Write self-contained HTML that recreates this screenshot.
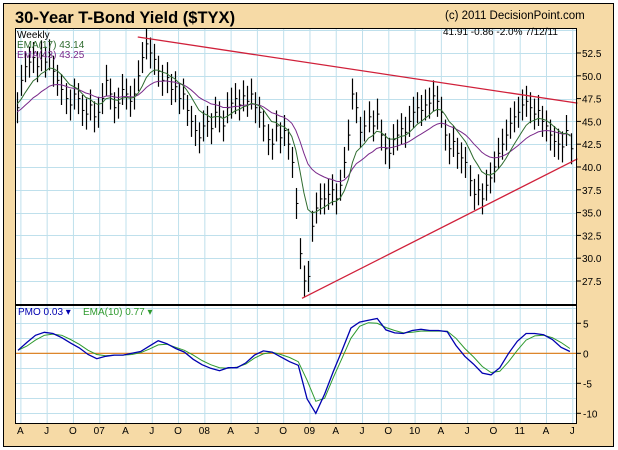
<!DOCTYPE html>
<html><head><meta charset="utf-8">
<style>
body{margin:0;background:#fff;}
svg{display:block;font-family:"Liberation Sans",Arial,sans-serif;}
</style></head>
<body>
<svg id="chart" width="618" height="450" viewBox="0 0 618 450">
<rect x="0" y="0" width="618" height="450" fill="#ffffff"/>
<rect x="3.5" y="3.5" width="610" height="443" fill="#F6DAA6" stroke="#000" stroke-width="1"/>
<text x="15" y="23" font-size="16.5" font-weight="bold" fill="#000">30-Year T-Bond Yield ($TYX)</text>
<text x="445" y="19" font-size="11.5" fill="#000">(c) 2011 DecisionPoint.com</text>
<rect x="15.5" y="28.5" width="561" height="276" fill="#fff"/>
<rect x="15.5" y="305.5" width="561" height="118" fill="#fff"/>
<g id="grid"></g>
<g id="marks"></g>
<rect x="15.5" y="28.5" width="561" height="276" fill="none" stroke="#000" stroke-width="1"/>
<rect x="15.5" y="305.5" width="561" height="118" fill="none" stroke="#000" stroke-width="1"/>
<text x="17" y="38" font-size="10" fill="#000">Weekly</text>
<text x="17" y="48" font-size="10" fill="#2E6B2E">EMA(17) 43.14</text>
<text x="17" y="58" font-size="10" fill="#7A2A8A">EMA(43) 43.25</text>
<text x="443" y="35" font-size="10" fill="#000">41.91  -0.86  -2.0%  7/12/11</text>
<text x="18" y="315" font-size="10" fill="#0000B0">PMO  0.03 ▾</text>
<text x="83" y="315" font-size="10" fill="#2E9A2E">EMA(10)  0.77 ▾</text>
<g id="axes"></g>
</svg>
<script>
const xLabels=["A","J","O","07","A","J","O","08","A","J","O","09","A","J","O","10","A","J","O","11","A","J"];
const xLabelMonths=[0.5,3.5,6.5,9.5,12.5,15.5,18.5,21.5,24.5,27.5,30.5,33.5,36.5,39.5,42.5,45.5,48.5,51.5,54.5,57.5,60.5,63.5];
const priceTicks=[52.5,50.0,47.5,45.0,42.5,40.0,37.5,35.0,32.5,30.0,27.5];
const pmoTicks=[5,0,-5,-10];
// bi-weekly closes (yield x10)
const closes=[46.5,49.5,51.0,51.5,52.0,51.0,52.2,51.5,52.3,50.5,
49.5,48.5,47.5,46.8,48.0,47.5,46.2,45.8,46.8,45.5,
46.0,47.5,49.5,48.0,46.5,47.0,48.5,48.0,47.2,48.0,
50.0,52.0,53.5,52.5,51.8,50.5,49.5,49.8,48.5,48.8,
47.5,48.0,46.2,45.0,44.0,43.2,44.5,45.0,44.2,46.0,
45.5,44.5,46.5,47.0,47.5,46.8,47.8,47.2,48.0,46.5,
46.0,44.5,43.0,42.5,44.5,43.2,44.0,42.5,40.5,36.0,
30.5,27.5,28.0,33.5,35.5,36.5,36.5,37.0,37.5,36.5,
38.0,40.5,43.5,48.0,46.5,43.8,44.5,45.5,44.5,45.8,
43.5,42.0,41.5,43.0,43.5,44.2,43.8,45.0,46.0,46.5,
46.2,46.8,47.0,47.8,47.2,46.0,43.5,42.0,42.8,41.5,
41.0,40.5,38.5,37.0,37.5,36.5,38.0,38.8,40.0,41.5,
42.5,43.5,44.8,45.5,46.0,46.8,47.2,46.5,45.8,46.2,
45.0,44.5,43.5,42.8,42.5,42.2,44.0,42.0];
const barHalfRange=[1.7];
// monthly PMO and signal
const pmo=[0.5,1.8,3.0,3.5,3.3,2.6,1.7,0.9,-0.2,-0.9,-0.5,-0.3,-0.3,0.0,0.3,1.2,2.1,1.6,0.8,0.2,-1.0,-1.9,-2.5,-2.9,-2.4,-2.4,-1.6,-0.3,0.4,0.2,-0.6,-1.4,-2.0,-7.6,-10.0,-6.8,-3.0,0.5,4.2,5.2,5.5,5.8,3.9,3.4,3.3,3.8,4.0,3.8,3.8,3.6,1.3,-0.5,-1.8,-3.3,-3.6,-2.4,0.0,2.0,3.3,3.3,3.1,2.3,1.0,0.3];
const pmoSignal=[0.5,1.2,2.2,3.0,3.2,3.0,2.3,1.5,0.5,-0.2,-0.4,-0.3,-0.3,-0.2,0.1,0.7,1.4,1.5,1.0,0.5,-0.3,-1.2,-1.9,-2.4,-2.5,-2.3,-1.8,-0.8,-0.1,0.2,-0.2,-0.7,-1.4,-4.5,-8.0,-7.5,-4.0,-0.8,2.5,4.5,5.1,5.0,4.3,3.8,3.4,3.5,3.7,3.7,3.7,3.7,2.5,0.8,-0.6,-2.2,-3.2,-3.0,-1.4,0.5,2.2,2.9,3.0,2.6,1.8,0.8];
const upperTrend=[[13.9,54.25],[64.1,47.0]];
const lowerTrend=[[32.65,25.6],[64.1,40.9]];

const NS="http://www.w3.org/2000/svg";
const X=m=>16+m*8.76;
const YP=v=>53+(52.5-v)*9.12;
const YM=v=>353.3-v*6.0;
function mk(tag,attrs,parent){const e=document.createElementNS(NS,tag);for(const k in attrs)e.setAttribute(k,attrs[k]);parent.appendChild(e);return e;}
const grid=document.getElementById('grid'),marks=document.getElementById('marks'),axes=document.getElementById('axes');
xLabelMonths.forEach((m,i)=>{
  const x=X(m)+0.5;
  let l=mk('line',{x1:x,x2:x,y1:29,y2:423,stroke:'#BFE0EC','stroke-width':1},grid);
  
  
  let t=mk('text',{x:X(m),y:434,'font-size':10,'text-anchor':'middle',fill:'#000'},axes);
  t.textContent=xLabels[i];
  
  
});
for(let v=55;v>=25;v-=2.5){const y=Math.round(YP(v))+0.5;if(y<29||y>304)continue;
  let l=mk('line',{x1:16,x2:576,y1:y,y2:y,stroke:'#BFE0EC','stroke-width':1},grid);
  
  }
for(let v=7.5;v>=-10;v-=2.5){const y=Math.round(YM(v))+0.5;if(y<306||y>423)continue;
  let l=mk('line',{x1:16,x2:576,y1:y,y2:y,stroke:'#BFE0EC','stroke-width':1},grid);
  
  }
priceTicks.forEach(v=>{const y=YP(v);
  mk('line',{x1:577,x2:581,y1:y,y2:y,stroke:'#000'},axes);
  let t=mk('text',{x:582,y:y+4,'font-size':10,fill:'#000'},axes);
  t.textContent=v.toFixed(1);
  
  });
pmoTicks.forEach(v=>{const y=YM(v);
  mk('line',{x1:577,x2:581,y1:y,y2:y,stroke:'#000'},axes);
  let t=mk('text',{x:583,y:y+4,'font-size':10,fill:'#000'},axes);
  t.textContent=String(v);
  
  });
const bm=i=>0.12+i*(4.04/8.76);
closes.forEach((c,i)=>{const x=Math.round(X(bm(i)))+0.5;const h=barHalfRange[0];
  let b=mk('line',{x1:x,x2:x,y1:YP(c+h),y2:YP(c-h),stroke:'#000','stroke-width':1.2},marks);
  
  
  mk('line',{x1:x,x2:x+2,y1:YP(c),y2:YP(c),stroke:'#000','stroke-width':1},marks);});
function ema(arr,n,init){const k=2/(n+1);let e=init;return arr.map(v=>(e=e+k*(v-e)));}
function poly(vals,xf,yf,color,name,w){const p=vals.map((v,i)=>xf(i).toFixed(1)+','+yf(v).toFixed(1)).join(' ');
  const e=mk('polyline',{points:p,fill:'none',stroke:color,'stroke-width':w||1},marks);
  
  }
poly(ema(closes,22,46),i=>X(bm(i)),YP,'#7A2A8A','ema43-line');
poly(ema(closes,9,47),i=>X(bm(i)),YP,'#2E6B2E','ema17-line');
[upperTrend,lowerTrend].forEach((t,j)=>{const e=mk('line',{x1:X(t[0][0]),y1:YP(t[0][1]),x2:X(t[1][0]),y2:YP(t[1][1]),stroke:'#D0203A','stroke-width':1.3},marks);
  
  });
const z=mk('line',{x1:16,x2:576,y1:YM(0),y2:YM(0),stroke:'#E07A10','stroke-width':1.2},marks);


poly(pmoSignal,i=>X(i)+2,YM,'#2E9A2E','pmo-signal-line');
poly(pmo,i=>X(i)+2,YM,'#0000B0','pmo-line',1.3);
</script>
</body></html>
